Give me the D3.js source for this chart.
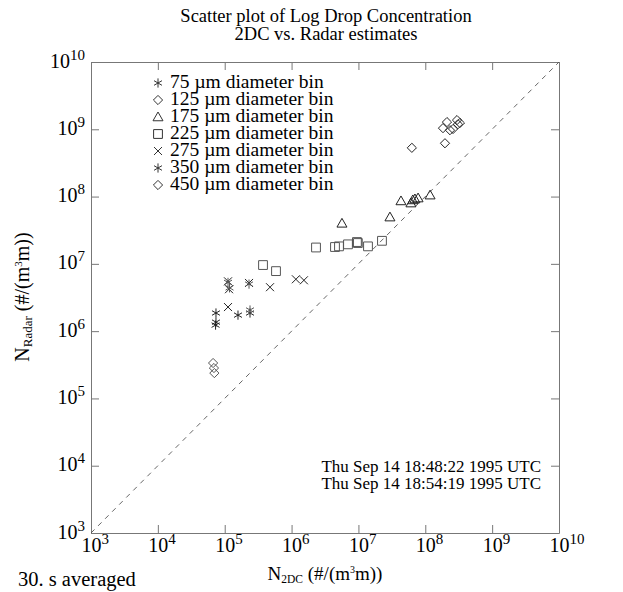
<!DOCTYPE html>
<html>
<head>
<meta charset="utf-8">
<script src="https://cdn.jsdelivr.net/npm/d3@7"></script>
<style>
  body { margin: 0; background: #fff; }
  svg { display: block; font-family: "Liberation Serif", "DejaVu Serif", serif; }
</style>
</head>
<body>
<div id="chart"></div>
<script>
// decades shown on both axes
const decades = [1e3, 1e4, 1e5, 1e6, 1e7, 1e8, 1e9, 1e10];

// [N_2DC, N_Radar] pairs per diameter bin
const bin75 = [[7.4e4, 1.86e6], [7.4e4, 1.36e6], [7.3e4, 1.23e6], [1.58e5, 1.73e6], [2.39e5, 1.86e6]];
const bin125 = [[6.7e4, 3.36e5], [6.9e4, 2.83e5], [7.0e4, 2.38e5]];
const bin175 = [[5.67e6, 4.0e7], [2.96e7, 4.95e7], [4.33e7, 8.6e7], [6.1e7, 8.0e7], [6.5e7, 8.9e7], [7.0e7, 9.2e7], [7.8e7, 9.5e7], [1.18e8, 1.05e8]];
const bin225 = [[3.74e5, 9.6e6], [5.85e5, 7.8e6], [2.32e6, 1.75e7], [4.46e6, 1.78e7], [5.12e6, 1.82e7], [6.98e6, 1.95e7], [9.5e6, 2.11e7], [9.8e6, 2.04e7], [1.39e7, 1.82e7], [2.25e7, 2.2e7]];
const bin275 = [[1.12e5, 5.5e6], [1.16e5, 4.2e6], [2.31e5, 5.2e6], [4.76e5, 4.5e6], [1.16e6, 5.9e6], [1.53e6, 5.7e6], [1.12e5, 2.28e6]];
const bin350 = [[1.12e5, 5.3e6], [1.18e5, 4.4e6], [2.31e5, 5.0e6], [2.39e5, 2.06e6]];
const bin450 = [[6.3e7, 5.3e8], [1.97e8, 6.2e8], [1.84e8, 1.04e9], [2.11e8, 1.28e9], [2.34e8, 9.7e8], [2.6e8, 1.01e9], [2.98e8, 1.37e9], [3.08e8, 1.19e9], [3.3e8, 1.24e9]];

const binLabels = ["75", "125", "175", "225", "275", "350", "450"];
const binSymbols = ["asterisk", "diamond", "triangle", "square", "cross", "asterisk", "diamond"];
const binData = [bin75, bin125, bin175, bin225, bin275, bin350, bin450];

const times = ["Thu Sep 14 18:48:22 1995 UTC", "Thu Sep 14 18:54:19 1995 UTC"];

const W = 623, H = 592;
const svg = d3.select("#chart").append("svg").attr("width", W).attr("height", H);

const x = d3.scaleLog().domain([1e3, 1e10]).range([91, 559]);
const y = d3.scaleLog().domain([1e3, 1e10]).range([533, 62]);

const frameColor = "#777";

// symbol path builders, centred at 0,0
function symbolPath(kind) {
  const p = d3.path();
  if (kind === "diamond") {
    const r = 4.6;
    p.moveTo(0, -r); p.lineTo(r, 0); p.lineTo(0, r); p.lineTo(-r, 0); p.closePath();
  } else if (kind === "triangle") {
    const r = 5;
    p.moveTo(0, -r); p.lineTo(r, r * 0.75); p.lineTo(-r, r * 0.75); p.closePath();
  } else if (kind === "square") {
    const r = 4.4;
    p.rect(-r, -r, 2 * r, 2 * r);
  } else if (kind === "cross") {
    const r = 4;
    p.moveTo(-r, -r); p.lineTo(r, r); p.moveTo(r, -r); p.lineTo(-r, r);
  } else {
    const r = 4.6;
    for (const a of [90, 30, 150]) {
      const t = (a * Math.PI) / 180;
      p.moveTo(-r * Math.cos(t), -r * Math.sin(t));
      p.lineTo(r * Math.cos(t), r * Math.sin(t));
    }
  }
  return p.toString();
}

// title
svg.append("text").attr("x", 326).attr("y", 22).attr("text-anchor", "middle")
  .attr("font-size", 18.5).text("Scatter plot of Log Drop Concentration");
svg.append("text").attr("x", 326).attr("y", 40).attr("text-anchor", "middle")
  .attr("font-size", 18.5).text("2DC vs. Radar estimates");

// axes with inward ticks
function styleAxis(g) {
  g.select(".domain").attr("stroke", frameColor);
  g.selectAll(".tick line").attr("stroke", frameColor);
}

const axBottom = svg.append("g").attr("transform", "translate(0,533)")
  .call(d3.axisBottom(x).tickValues(decades).tickSizeInner(-8).tickSizeOuter(0).tickFormat(""))
  .call(styleAxis);
svg.append("g").attr("transform", "translate(0,62)")
  .call(d3.axisTop(x).tickValues(decades).tickSizeInner(-8).tickSizeOuter(0).tickFormat(""))
  .call(styleAxis);
const axLeft = svg.append("g").attr("transform", "translate(91,0)")
  .call(d3.axisLeft(y).tickValues(decades).tickSizeInner(-8).tickSizeOuter(0).tickFormat(""))
  .call(styleAxis);
svg.append("g").attr("transform", "translate(559,0)")
  .call(d3.axisRight(y).tickValues(decades).tickSizeInner(-8).tickSizeOuter(0).tickFormat(""))
  .call(styleAxis);

// power-of-ten tick labels
const exp = (d) => Math.round(Math.log10(d));
axBottom.selectAll(".tick").append("text")
  .attr("x", -10).attr("y", 19).attr("fill", "#000").attr("font-size", 20)
  .attr("text-anchor", "start").attr("font-family", "Liberation Serif, serif")
  .each(function (d) {
    const t = d3.select(this);
    t.append("tspan").text("10");
    t.append("tspan").attr("font-size", 15).attr("dy", -8).text(exp(d));
  });
axLeft.selectAll(".tick").append("text")
  .attr("x", -6).attr("y", 5).attr("fill", "#000").attr("font-size", 20)
  .attr("text-anchor", "end").attr("font-family", "Liberation Serif, serif")
  .each(function (d) {
    const t = d3.select(this);
    t.append("tspan").text("10");
    t.append("tspan").attr("font-size", 15).attr("dy", -8).text(exp(d));
  });

// 1:1 dashed line
svg.append("line")
  .attr("x1", x(1e3)).attr("y1", y(1e3)).attr("x2", x(1e10)).attr("y2", y(1e10))
  .attr("stroke", "#555").attr("stroke-width", 0.9).attr("stroke-dasharray", "5,5");

// data points
binData.forEach((pts, i) => {
  svg.append("g").selectAll("path").data(pts).join("path")
    .attr("d", symbolPath(binSymbols[i]))
    .attr("transform", (d) => `translate(${x(d[0])},${y(d[1])})`)
    .attr("fill", "none").attr("stroke", i % 2 ? "#555" : "#222").attr("stroke-width", 1);
});

// legend (rows sit tight, as in the original)
const legend = svg.append("g");
binLabels.forEach((lab, i) => {
  const by = 88 + i * 17;
  legend.append("path").attr("d", symbolPath(binSymbols[i]))
    .attr("transform", `translate(158,${by - 5})`)
    .attr("fill", "none").attr("stroke", "#333").attr("stroke-width", 1);
  legend.append("text").attr("x", 170).attr("y", by).attr("font-size", 19.5)
    .text(`${lab} \u00b5m diameter bin`);
});

// time stamps
times.forEach((t, i) => {
  svg.append("text").attr("x", 541).attr("y", 472 + i * 17).attr("text-anchor", "end")
    .attr("font-size", 17).text(t);
});

// x axis title
const xt = svg.append("text").attr("x", 325).attr("y", 580).attr("text-anchor", "middle").attr("font-size", 19);
xt.append("tspan").text("N");
xt.append("tspan").attr("font-size", 11.5).attr("dy", 3).text("2DC");
xt.append("tspan").attr("dy", -3).text(" (#/(m");
xt.append("tspan").attr("font-size", 10).attr("dy", -7).text("3");
xt.append("tspan").attr("dy", 7).text("m))");

// y axis title
const yt = svg.append("text").attr("transform", "translate(29,297) rotate(-90)")
  .attr("text-anchor", "middle").attr("font-size", 20);
yt.append("tspan").text("N");
yt.append("tspan").attr("font-size", 13).attr("dy", 3).text("Radar");
yt.append("tspan").attr("dy", -3).text(" (#/(m");
yt.append("tspan").attr("font-size", 11).attr("dy", -7).text("3");
yt.append("tspan").attr("dy", 7).text("m))");

// footnote
svg.append("text").attr("x", 18).attr("y", 586).attr("font-size", 20.5).text("30. s averaged");
</script>
</body>
</html>
